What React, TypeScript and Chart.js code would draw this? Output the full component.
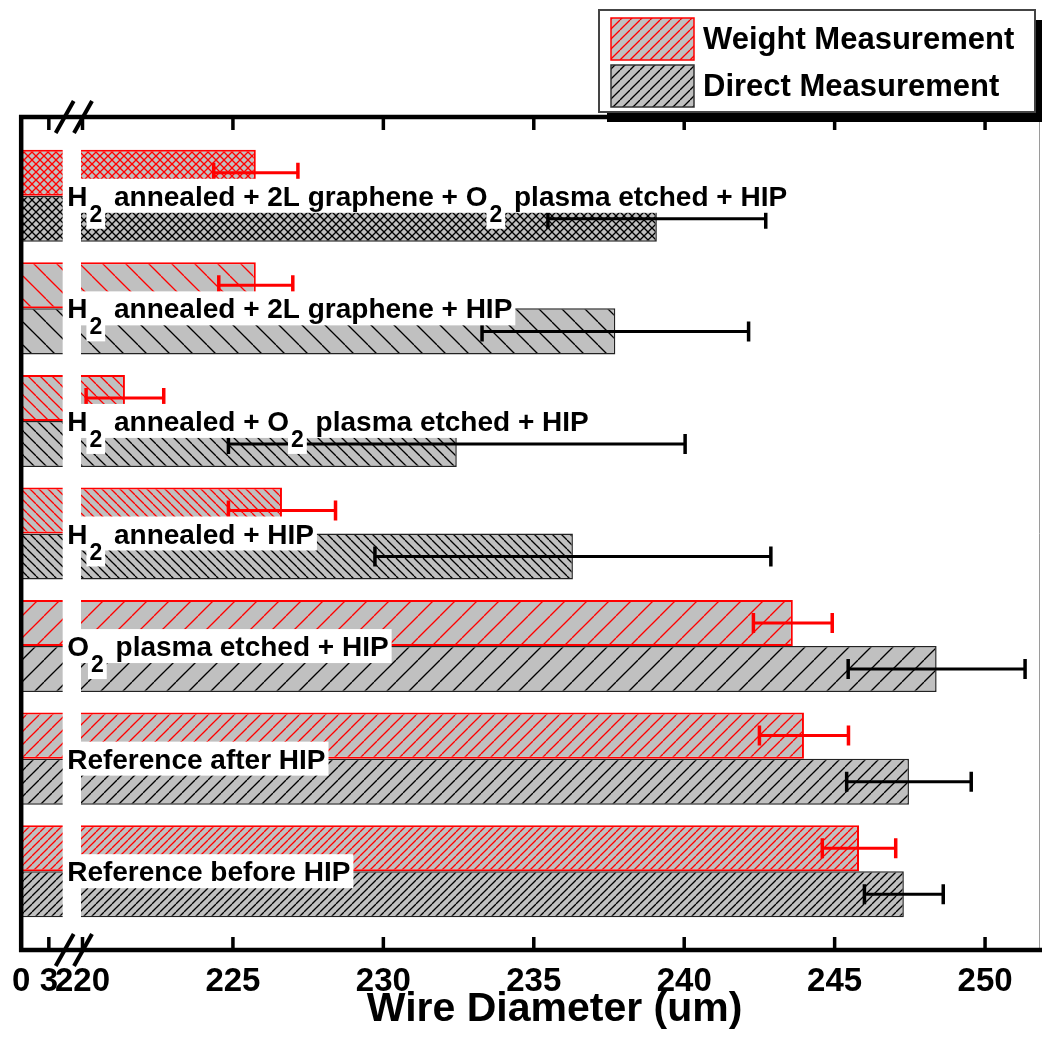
import React, { useEffect, useRef } from "react";
import { Chart, registerables } from "chart.js";

Chart.register(...registerables);

// ---------- data ----------
const CATEGORIES = [
  "H₂ annealed + 2L graphene + O₂ plasma etched + HIP",
  "H₂ annealed + 2L graphene + HIP",
  "H₂ annealed + O₂ plasma etched + HIP",
  "H₂ annealed + HIP",
  "O₂ plasma etched + HIP",
  "Reference after HIP",
  "Reference before HIP",
];
const SERIES = ["Weight Measurement", "Direct Measurement"];
const WEIGHT = [225.76, 225.76, 221.41, 226.63, 243.61, 243.98, 245.81];
const WEIGHT_ERR = [1.4, 1.23, 1.29, 1.78, 1.31, 1.48, 1.22];
const DIRECT = [239.09, 237.71, 232.44, 236.3, 248.39, 247.47, 247.3];
const DIRECT_ERR = [3.62, 4.43, 7.59, 6.58, 2.94, 2.07, 1.31];
const TICK_VALUES = [0, 3, 220, 225, 230, 235, 240, 245, 250];
const TICK_LABELS = ["0", "3", "220", "225", "230", "235", "240", "245", "250"];
const AXIS_TITLE = "Wire Diameter (um)";

// ---------- broken axis geometry ----------
const LEFT_MAX = 4.5;
const LEFT_SCALE = 9.23;
const RIGHT_START = 220;
const RIGHT_U0 = 61.4;
const RIGHT_SCALE = 30.12;
const U_MAX = 1020;
const toU = (v: number) => (v <= LEFT_MAX ? v * LEFT_SCALE : RIGHT_U0 + (v - RIGHT_START) * RIGHT_SCALE);

// hatch style per category: [kind, spacing]
const HATCH: [string, number][] = [
  ["x", 8],
  ["\\", 23],
  ["\\", 12],
  ["\\", 9],
  ["/", 22],
  ["/", 13],
  ["/", 8],
];

const FONT = "'Liberation Sans', Arial, sans-serif";
const LABEL_FONT = `bold 28px ${FONT}`;
const SUB_FONT = `bold 23px ${FONT}`;

function makePattern(kind: string, s: number, color: string): CanvasPattern | string {
  const c = document.createElement("canvas");
  c.width = s;
  c.height = s;
  const ctx = c.getContext("2d")!;
  ctx.fillStyle = "#c0c0c0";
  ctx.fillRect(0, 0, s, s);
  ctx.strokeStyle = color;
  ctx.lineWidth = 1.3;
  const dirs = kind === "x" ? ["/", "\\"] : [kind];
  for (const d of dirs) {
    for (const k of [-s, 0, s]) {
      ctx.beginPath();
      if (d === "/") {
        ctx.moveTo(k, s);
        ctx.lineTo(k + s, 0);
      } else {
        ctx.moveTo(k, 0);
        ctx.lineTo(k + s, s);
      }
      ctx.stroke();
    }
  }
  return ctx.createPattern(c, "repeat") || "#c0c0c0";
}

function drawLabel(ctx: CanvasRenderingContext2D, text: string, x: number, base: number) {
  const parts = text.split("₂");
  const segs: { t: string; sub: boolean }[] = [];
  parts.forEach((p, i) => {
    if (i > 0) segs.push({ t: "2", sub: true });
    if (p) segs.push({ t: p, sub: false });
  });
  let cx = x;
  const laid: { t: string; sub: boolean; x: number; w: number }[] = [];
  for (const s of segs) {
    ctx.font = s.sub ? SUB_FONT : LABEL_FONT;
    const w = ctx.measureText(s.t).width;
    if (s.sub) cx += 2;
    laid.push({ ...s, x: cx, w });
    cx += w;
    if (s.sub) cx += 4;
  }
  const total = cx - x;
  ctx.fillStyle = "#ffffff";
  ctx.fillRect(x - 2, base - 27, total + 5, 34);
  for (const s of laid) if (s.sub) ctx.fillRect(s.x - 3, base, s.w + 6, 23);
  ctx.fillStyle = "#000000";
  ctx.textAlign = "left";
  ctx.textBaseline = "alphabetic";
  for (const s of laid) {
    ctx.font = s.sub ? SUB_FONT : LABEL_FONT;
    ctx.fillText(s.t, s.x, s.sub ? base + 16 : base);
  }
}

export default function App() {
  const ref = useRef<HTMLCanvasElement | null>(null);

  useEffect(() => {
    const canvas = ref.current!;
    const weightPatterns = HATCH.map(([k, s]) => makePattern(k, s, "#ff0000"));
    const directPatterns = HATCH.map(([k, s]) => makePattern(k, s, "#000000"));
    const legendWeight = makePattern("/", 10, "#ff0000");
    const legendDirect = makePattern("/", 10, "#000000");

    const overlay = {
      id: "overlay",
      afterDatasetsDraw(chart: any) {
        const ctx: CanvasRenderingContext2D = chart.ctx;
        const xs = chart.scales.x;
        const ys = chart.scales.y;
        const area = chart.chartArea;
        ctx.save();
        // axis break gap
        const g0 = xs.getPixelForValue(toU(LEFT_MAX));
        const g1 = xs.getPixelForValue(toU(RIGHT_START)) - 1.5;
        ctx.fillStyle = "#ffffff";
        ctx.fillRect(g0, area.top, g1 - g0, area.bottom - area.top);
        // error bars
        const sets = [
          { vals: WEIGHT, errs: WEIGHT_ERR, color: "#ff0000" },
          { vals: DIRECT, errs: DIRECT_ERR, color: "#000000" },
        ];
        sets.forEach((s, di) => {
          const meta = chart.getDatasetMeta(di);
          s.vals.forEach((v, i) => {
            const el = meta.data[i];
            const y = el.y;
            const xl = xs.getPixelForValue(toU(v - s.errs[i]));
            const xr = xs.getPixelForValue(toU(v + s.errs[i]));
            ctx.strokeStyle = s.color;
            ctx.lineWidth = 3;
            ctx.beginPath();
            ctx.moveTo(xl, y);
            ctx.lineTo(xr, y);
            ctx.stroke();
            ctx.lineWidth = 3.5;
            ctx.beginPath();
            ctx.moveTo(xl, y - 10);
            ctx.lineTo(xl, y + 10);
            ctx.moveTo(xr, y - 10);
            ctx.lineTo(xr, y + 10);
            ctx.stroke();
          });
        });
        // category labels
        CATEGORIES.forEach((c, i) => {
          const yc = ys.getPixelForValue(i);
          drawLabel(ctx, c, area.left + 46, yc + 10);
        });
        ctx.restore();
      },
      afterDraw(chart: any) {
        const ctx: CanvasRenderingContext2D = chart.ctx;
        const xs = chart.scales.x;
        const area = chart.chartArea;
        ctx.save();
        // right border
        ctx.strokeStyle = "#9a9a9a";
        ctx.lineWidth = 1;
        ctx.beginPath();
        ctx.moveTo(area.right - 0.5, area.top);
        ctx.lineTo(area.right - 0.5, area.bottom);
        ctx.stroke();
        // frame
        ctx.strokeStyle = "#000000";
        ctx.lineWidth = 4.5;
        ctx.lineCap = "square";
        ctx.beginPath();
        ctx.moveTo(area.left, area.top);
        ctx.lineTo(area.left, area.bottom);
        ctx.moveTo(area.left, area.bottom);
        ctx.lineTo(area.right + 2, area.bottom);
        ctx.moveTo(area.left, area.top);
        ctx.lineTo(area.right + 2, area.top);
        ctx.stroke();
        ctx.lineCap = "butt";
        // inward ticks
        ctx.lineWidth = 3.5;
        TICK_VALUES.forEach((v) => {
          if (v === 0) return;
          const px = xs.getPixelForValue(toU(v));
          ctx.beginPath();
          ctx.moveTo(px, area.bottom);
          ctx.lineTo(px, area.bottom - 13);
          ctx.moveTo(px, area.top);
          ctx.lineTo(px, area.top + 13);
          ctx.stroke();
        });
        // break marks
        const b0 = xs.getPixelForValue(toU(LEFT_MAX)) + 2;
        const b1 = xs.getPixelForValue(toU(RIGHT_START)) + 0.5;
        ctx.lineWidth = 4;
        for (const yy of [area.top, area.bottom]) {
          for (const cx of [b0, b1]) {
            ctx.beginPath();
            ctx.moveTo(cx - 9, yy + 16);
            ctx.lineTo(cx + 9, yy - 16);
            ctx.stroke();
          }
        }
        // axis title
        ctx.fillStyle = "#000000";
        ctx.font = `bold 41px ${FONT}`;
        ctx.textAlign = "center";
        ctx.textBaseline = "alphabetic";
        ctx.fillText(AXIS_TITLE, (area.left + area.right) / 2 + 24, 1021);
        // legend
        const lw = 436;
        const lh = 102;
        const lx = chart.width - 7 - lw;
        const ly = 10;
        ctx.fillStyle = "#000000";
        ctx.fillRect(lx + 8, ly + 10, lw, lh);
        ctx.fillStyle = "#ffffff";
        ctx.fillRect(lx, ly, lw, lh);
        ctx.strokeStyle = "#444444";
        ctx.lineWidth = 2;
        ctx.strokeRect(lx, ly, lw, lh);
        const sw = [
          { p: legendWeight, c: "#ff0000", y: ly + 8 },
          { p: legendDirect, c: "#333333", y: ly + 55 },
        ];
        sw.forEach((s, i) => {
          ctx.fillStyle = s.p as any;
          ctx.fillRect(lx + 12, s.y, 83, 42);
          ctx.strokeStyle = s.c;
          ctx.lineWidth = 1.5;
          ctx.strokeRect(lx + 12, s.y, 83, 42);
          ctx.fillStyle = "#000000";
          ctx.font = `bold 31px ${FONT}`;
          ctx.textAlign = "left";
          ctx.textBaseline = "middle";
          ctx.fillText(chart.data.datasets[i].label, lx + 104, s.y + 22);
        });
        ctx.restore();
      },
    };

    const chart = new Chart(canvas, {
      type: "bar",
      data: {
        datasets: [
          {
            label: SERIES[0],
            data: WEIGHT.map((v, i) => ({ x: toU(v), y: i })),
            backgroundColor: weightPatterns as any,
            borderColor: "#ff0000",
            borderWidth: 2,
            categoryPercentage: 0.818,
            barPercentage: 1,
          },
          {
            label: SERIES[1],
            data: DIRECT.map((v, i) => ({ x: toU(v), y: i })),
            backgroundColor: directPatterns as any,
            borderColor: "#222222",
            borderWidth: 1.5,
            categoryPercentage: 0.818,
            barPercentage: 1,
          },
        ],
      },
      options: {
        indexAxis: "y",
        animation: false,
        responsive: false,
        devicePixelRatio: 1,
        layout: { padding: { top: 117, left: 20, right: 2, bottom: 0 } },
        plugins: { legend: { display: false }, tooltip: { enabled: false } },
        scales: {
          y: {
            type: "linear",
            min: -0.7,
            max: 6.7,
            reverse: true,
            offset: false,
            display: false,
            afterBuildTicks: (scale: any) => {
              scale.ticks = CATEGORIES.map((_c, i) => ({ value: i }));
            },
          },
          x: {
            type: "linear",
            min: 0,
            max: U_MAX,
            offset: false,
            grid: { display: false, drawTicks: false },
            border: { display: false },
            afterBuildTicks: (scale: any) => {
              scale.ticks = TICK_VALUES.map((v) => ({ value: toU(v) }));
            },
            afterFit: (scale: any) => {
              scale.height = 101;
            },
            ticks: {
              autoSkip: false,
              maxRotation: 0,
              minRotation: 0,
              padding: 12,
              color: "#000000",
              font: { family: FONT, size: 33, weight: "bold" },
              callback: (_v: any, i: number) => TICK_LABELS[i],
            },
          },
        },
      } as any,
      plugins: [overlay],
    });
    return () => chart.destroy();
  }, []);

  return (
    <div style={{ position: "absolute", left: 0, top: 0, width: 1042, height: 1051, background: "#ffffff" }}>
      <canvas ref={ref} width={1042} height={1051} style={{ width: 1042, height: 1051, display: "block" }} />
    </div>
  );
}
